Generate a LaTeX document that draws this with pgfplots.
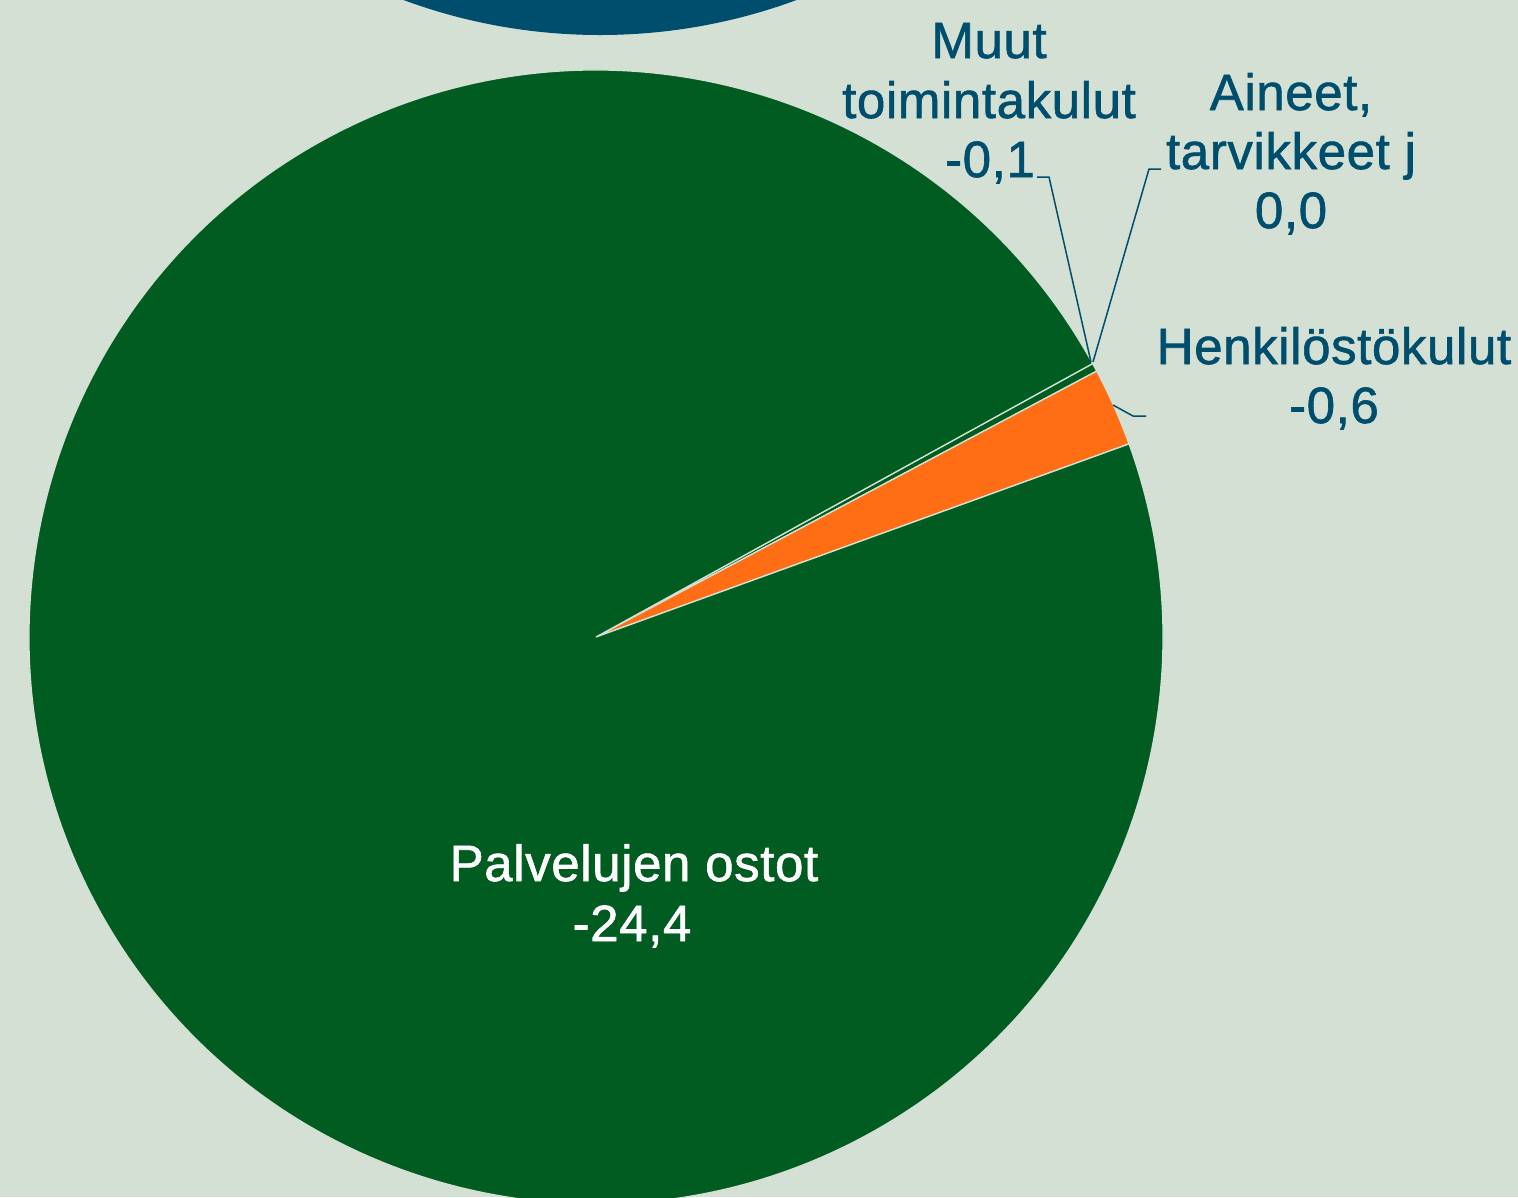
\documentclass[border=0pt]{standalone}
\usepackage{pgfplots}
\pgfplotsset{compat=1.18}
\usepackage{fontspec}
\setmainfont{Liberation Sans}
\newfontfamily\lblfont[FakeBold=1.2, LetterSpace=1.2]{Liberation Sans}
\definecolor{bg}{RGB}{211,224,211}
\definecolor{pblue}{RGB}{0,78,110}
\definecolor{pgreen}{RGB}{0,92,32}
\definecolor{porange}{RGB}{255,109,20}
\newcommand{\lbl}{\lblfont\fontsize{15.3}{17.4}\selectfont}
\begin{document}
\begin{tikzpicture}
% data (Meur)
\def\vA{0.0}   % Aineet, tarvikkeet ja tavarat
\def\vM{0.06}  % Muut toimintakulut
\def\vH{0.56}  % Henkilostokulut
\def\vP{24.4}  % Palvelujen ostot
\pgfmathsetmacro{\tot}{\vA+\vM+\vH+\vP}
\pgfmathsetmacro{\aZero}{28.84}
\pgfmathsetmacro{\aM}{\aZero-\vA/\tot*360}
\pgfmathsetmacro{\aH}{\aM-\vM/\tot*360}
\pgfmathsetmacro{\aP}{\aH-\vH/\tot*360}
\pgfmathsetmacro{\aEnd}{\aP-\vP/\tot*360}
\def\R{170.1pt}
\begin{axis}[
  scale only axis, width=455.4pt, height=359.1pt,
  xmin=0, xmax=1518, ymin=0, ymax=1197, y dir=reverse,
  hide axis, clip=true]
\fill[bg] (rel axis cs:0,0) rectangle (rel axis cs:1,1);
\fill[pblue] (axis cs:600,-532) circle[radius=\R];
% slices
\fill[pgreen, draw=bg, line width=0.4pt] (axis cs:596,637) -- ++(\aH:\R) arc[start angle=\aH, end angle=\aM, radius=\R] -- cycle;
\fill[porange, draw=bg, line width=0.4pt] (axis cs:596,637) -- ++(\aP:\R) arc[start angle=\aP, end angle=\aH, radius=\R] -- cycle;
\fill[pgreen, draw=bg, line width=0.4pt] (axis cs:596,637) -- ++(\aEnd:\R) arc[start angle=\aEnd, end angle=\aP, radius=\R] -- cycle;
% leader lines
\draw[pblue, line width=0.45pt] (axis cs:1037,177) -- (axis cs:1049,177) -- (axis cs:1091,362);
\draw[pblue, line width=0.45pt] (axis cs:1161,169) -- (axis cs:1149,169) -- (axis cs:1093,362);
\draw[pblue, line width=0.45pt] (axis cs:1146,416) -- (axis cs:1133,416) -- (axis cs:1113,405);
% labels
\node[font=\lbl, text=pblue, anchor=base, inner sep=0pt] at (axis cs:989,58) {Muut};
\node[font=\lbl, text=pblue, anchor=base, inner sep=0pt] at (axis cs:989,118) {toimintakulut};
\node[font=\lbl, text=pblue, anchor=base, inner sep=0pt] at (axis cs:990,177) {-0,1};
\node[font=\lbl, text=pblue, anchor=base, inner sep=0pt] at (axis cs:1291,110) {Aineet,};
\node[font=\lbl, text=pblue, anchor=base, inner sep=0pt] at (axis cs:1291,169) {tarvikkeet j};
\node[font=\lbl, text=pblue, anchor=base, inner sep=0pt] at (axis cs:1291,228) {0,0};
\node[font=\lbl, text=pblue, anchor=base, inner sep=0pt] at (axis cs:1334,364) {Henkilöstökulut};
\node[font=\lbl, text=pblue, anchor=base, inner sep=0pt] at (axis cs:1334,423) {-0,6};
\node[font=\lbl, text=white, anchor=base, inner sep=0pt] at (axis cs:634,881) {Palvelujen ostot};
\node[font=\lbl, text=white, anchor=base, inner sep=0pt] at (axis cs:632,941) {-24,4};
\end{axis}
\pgfresetboundingbox
\useasboundingbox (current axis.south west) rectangle (current axis.north east);
\end{tikzpicture}
\end{document}
